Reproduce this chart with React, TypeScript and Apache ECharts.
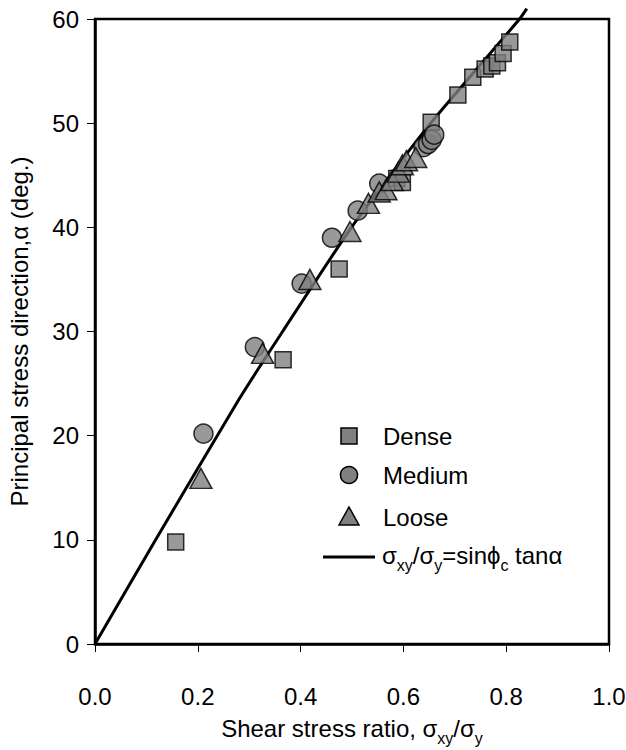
import React, { useEffect, useRef } from "react";
import * as echarts from "echarts";

const xTickInterval = 0.2;
const yTickInterval = 10;

// Dense sand (squares)
const dense: number[][] = [
  [0.157, 9.8], [0.366, 27.3], [0.475, 36.0], [0.587, 44.7], [0.598, 44.3],
  [0.654, 50.1], [0.706, 52.7], [0.735, 54.4], [0.759, 55.2], [0.772, 55.5],
  [0.783, 55.8], [0.794, 56.7], [0.807, 57.8],
];
// Medium sand (circles)
const medium: number[][] = [
  [0.211, 20.2], [0.311, 28.5], [0.402, 34.6], [0.461, 39.0], [0.511, 41.6],
  [0.553, 44.2], [0.639, 47.7], [0.648, 48.0], [0.655, 48.4], [0.660, 48.9],
];
// Loose sand (triangles)
const loose: number[][] = [
  [0.206, 15.9], [0.326, 27.9], [0.418, 35.0], [0.496, 39.6], [0.532, 42.3],
  [0.553, 43.4], [0.566, 43.6], [0.578, 44.5], [0.590, 45.3], [0.598, 46.0],
  [0.606, 46.4], [0.624, 46.7],
];
// Theoretical line sigma_xy/sigma_y = sin(phi_c) tan(alpha)
const theory: number[][] = [
  [0, 0], [0.118, 10], [0.279, 23.4], [0.365, 30], [0.499, 40], [0.653, 50], [0.826, 60], [0.84, 61],
];

const legendNames = ["Dense", "Medium", "Loose"];

const FONT = "'Liberation Sans', Arial, Helvetica, sans-serif";
const GREY = "#808080";

const rich = {
  n: { fontSize: 24, fontFamily: FONT, color: "#000", lineHeight: 30, verticalAlign: "top" },
  s: { fontSize: 16, fontFamily: FONT, color: "#000", lineHeight: 16, verticalAlign: "top", padding: [14, 0, 0, 0] },
};

export default function App() {
  const ref = useRef<HTMLDivElement>(null);
  useEffect(() => {
    if (!ref.current) return;
    const chart = echarts.init(ref.current, null, { renderer: "svg" });
    const markerStyle = { color: GREY, borderColor: "#000", borderWidth: 1.5 };
    const lx = 349;
    const tx = 383;
    const option: any = {
      animation: false,
      backgroundColor: "#fff",
      grid: {
        left: 95, right: 17, top: 19, bottom: 106,
        outerBoundsMode: "none", containLabel: false,
        show: true, borderColor: "#000", borderWidth: 2.5, backgroundColor: "transparent",
      },
      xAxis: {
        type: "value", min: 0, max: 1, interval: xTickInterval,
        axisLine: { show: true, onZero: false, lineStyle: { color: "#000", width: 2.5 } },
        axisTick: { show: true, inside: false, length: 8, lineStyle: { color: "#000", width: 1 } },
        splitLine: { show: false },
        axisLabel: {
          color: "#000", fontSize: 24, fontFamily: FONT, margin: 40,
          formatter: (v: number) => v.toFixed(1),
        },
        name: "{n|Shear stress ratio, σ}{s|xy}{n|/σ}{s|y}",
        nameLocation: "middle", nameGap: 72,
        nameTextStyle: { rich, fontSize: 24, fontFamily: FONT, color: "#000" },
      },
      yAxis: {
        type: "value", min: 0, max: 60, interval: yTickInterval,
        axisLine: { show: true, onZero: false, lineStyle: { color: "#000", width: 2.5 } },
        axisTick: { show: true, inside: false, length: 8, lineStyle: { color: "#000", width: 1 } },
        splitLine: { show: false },
        axisLabel: { color: "#000", fontSize: 24, fontFamily: FONT, margin: 16 },
        name: "Principal stress direction,α (deg.)",
        nameLocation: "middle", nameGap: 64, nameRotate: 90,
        nameTextStyle: { fontSize: 24, fontFamily: FONT, color: "#000" },
      },
      series: [
        {
          type: "line", data: theory, showSymbol: false, smooth: 0.2, clip: false,
          lineStyle: { color: "#000", width: 3 }, z: 1, silent: true,
        },
        { name: legendNames[0], type: "scatter", data: dense, symbol: "rect", symbolSize: 16, itemStyle: markerStyle, z: 2 },
        { name: legendNames[1], type: "scatter", data: medium, symbol: "circle", symbolSize: 19, itemStyle: markerStyle, z: 3 },
        { name: legendNames[2], type: "scatter", data: loose, symbol: "triangle", symbolSize: [22, 20], itemStyle: markerStyle, z: 4 },
      ],
      graphic: [
        { type: "rect", shape: { x: lx - 8, y: 436 - 8, width: 16, height: 16 }, style: { fill: GREY, stroke: "#000", lineWidth: 1.5 }, z: 10 },
        { type: "circle", shape: { cx: lx, cy: 475, r: 8.5 }, style: { fill: GREY, stroke: "#000", lineWidth: 1.5 }, z: 10 },
        { type: "polygon", shape: { points: [[lx, 507], [lx + 10, 525], [lx - 10, 525]] }, style: { fill: GREY, stroke: "#000", lineWidth: 1.5 }, z: 10 },
        { type: "line", shape: { x1: 323, y1: 557, x2: 375, y2: 557 }, style: { stroke: "#000", lineWidth: 3 }, z: 10 },
        { type: "text", x: tx, y: 436, style: { text: legendNames[0], font: `24px ${FONT}`, fill: "#000", verticalAlign: "middle" }, z: 10 },
        { type: "text", x: tx, y: 475, style: { text: legendNames[1], font: `24px ${FONT}`, fill: "#000", verticalAlign: "middle" }, z: 10 },
        { type: "text", x: tx, y: 517, style: { text: legendNames[2], font: `24px ${FONT}`, fill: "#000", verticalAlign: "middle" }, z: 10 },
        {
          type: "text", x: tx - 1, y: 558, z: 10,
          style: {
            text: "{n|σ}{s|xy}{n|/σ}{s|y}{n|=sinϕ}{s|c}{n| tanα}",
            rich, verticalAlign: "middle", fill: "#000",
          },
        },
      ],
    };
    chart.setOption(option);
    return () => chart.dispose();
  }, []);
  return <div ref={ref} style={{ width: 626, height: 750, position: "absolute", left: 0, top: 0 }} />;
}
